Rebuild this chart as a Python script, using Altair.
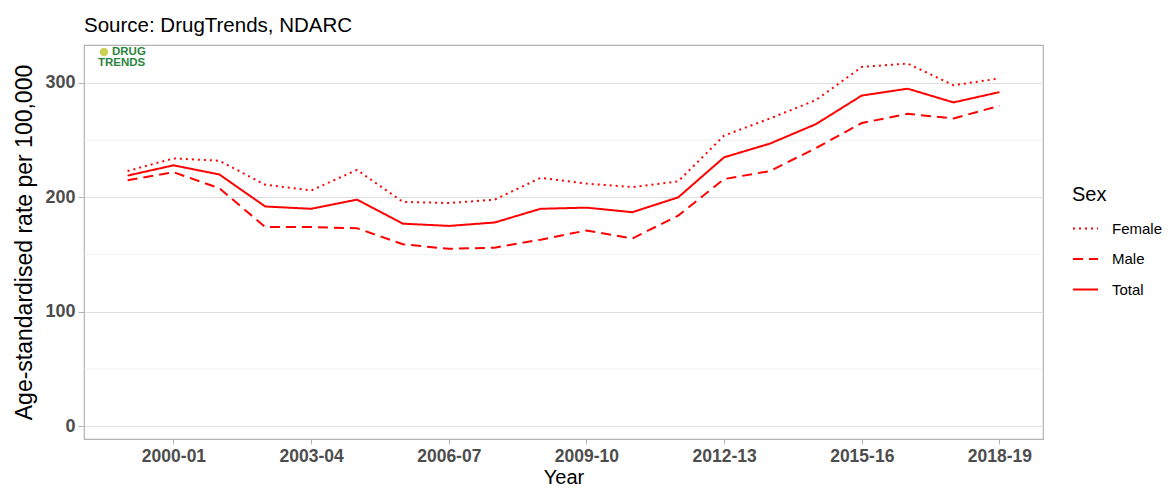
import altair as alt
import pandas as pd

years = ["1999-00", "2000-01", "2001-02", "2002-03", "2003-04", "2004-05", "2005-06",
         "2006-07", "2007-08", "2008-09", "2009-10", "2010-11", "2011-12", "2012-13",
         "2013-14", "2014-15", "2015-16", "2016-17", "2017-18", "2018-19"]
female = [223, 234, 232, 211, 206, 224, 196, 195, 198, 217, 212, 209, 214, 254, 269, 285, 314, 317, 298, 304]
male = [215, 222, 208, 174, 174, 173, 159, 155, 156, 163, 171, 164, 184, 216, 223, 243, 265, 273, 269, 280]
total = [219, 228, 220, 192, 190, 198, 177, 175, 178, 190, 191, 187, 200, 235, 247, 264, 289, 295, 283, 292]
sexes = ["Female", "Male", "Total"]
x_ticks = ["2000-01", "2003-04", "2006-07", "2009-10", "2012-13", "2015-16", "2018-19"]
y_ticks = [0, 100, 200, 300]
y_minor = [50, 150, 250]

rows = []
for s, vals in zip(sexes, [female, male, total]):
    for yr, v in zip(years, vals):
        rows.append({"Year": yr, "Sex": s, "Rate": v})
df = pd.DataFrame(rows)

FONT = "Liberation Sans"
W, H = 959, 394

xscale = alt.Scale(domain=years, type="point", padding=0.95)
yscale = alt.Scale(domain=[-11.3, 333.2], nice=False, zero=False)

minor = alt.Chart(pd.DataFrame({"v": y_minor})).mark_rule(
    color="#EDEDED", strokeWidth=0.8
).encode(y=alt.Y("v:Q", scale=yscale))

lines = alt.Chart(df).mark_line(color="#FF0000", strokeWidth=2).encode(
    x=alt.X("Year:O", scale=xscale, sort=years,
            axis=alt.Axis(values=x_ticks, title="Year", labelAngle=0,
                          labelFont=FONT, labelFontSize=17.5, labelFontWeight="bold",
                          labelColor="#4D4D4D", labelPadding=3,
                          titleFont=FONT, titleFontSize=20, titleFontWeight="normal",
                          titleColor="#000000", titleBaseline="alphabetic", titleY=44,
                          tickColor="#B3B3B3", tickSize=5, domain=False, grid=False)),
    y=alt.Y("Rate:Q", scale=yscale,
            axis=alt.Axis(values=y_ticks, title="Age-standardised rate per 100,000",
                          labelFont=FONT, labelFontSize=18, labelFontWeight="bold",
                          labelColor="#4D4D4D", labelPadding=3,
                          titleFont=FONT, titleFontSize=23, titleFontWeight="normal",
                          titleColor="#000000", titlePadding=8,
                          tickColor="#B3B3B3", tickSize=6, domain=False,
                          grid=True, gridColor="#DEDEDE", gridWidth=1.2)),
    strokeDash=alt.StrokeDash("Sex:N",
        scale=alt.Scale(domain=sexes, range=[[2, 4], [10, 6], [1, 0]]),
        legend=alt.Legend(title="Sex", orient="none", legendX=988, legendY=140,
                          titleFont=FONT, titleFontSize=20, titleFontWeight="normal",
                          titleColor="#000000", titlePadding=10,
                          labelFont=FONT, labelFontSize=15, labelColor="#000000",
                          labelOffset=13,
                          symbolType="stroke", symbolSize=625, symbolStrokeWidth=2,
                          symbolStrokeColor="#FF0000", rowPadding=8.5)),
)

logo_icon = alt.Chart(pd.DataFrame({"a": [1]})).mark_point(
    filled=True, color="#C8CF4A", size=70, opacity=0.95
).encode(x=alt.value(20), y=alt.value(7))
logo1 = alt.Chart(pd.DataFrame({"t": ["DRUG"]})).mark_text(
    font=FONT, fontSize=11.5, fontWeight="bold", color="#2A8540", align="left", baseline="middle"
).encode(x=alt.value(28), y=alt.value(6.5), text="t:N")
logo2 = alt.Chart(pd.DataFrame({"t": ["TRENDS"]})).mark_text(
    font=FONT, fontSize=11.5, fontWeight="bold", color="#2A8540", align="left", baseline="middle"
).encode(x=alt.value(14), y=alt.value(17.5), text="t:N")

chart = alt.layer(minor, lines, logo_icon, logo1, logo2).properties(
    width=W, height=H,
    title=alt.TitleParams("Source: DrugTrends, NDARC", anchor="start", frame="group",
                          font=FONT, fontSize=20.5, fontWeight="normal",
                          color="#000000", offset=9),
    autosize=alt.AutoSizeParams(type="none"),
    padding={"left": 76, "top": 37, "right": 121, "bottom": 47},
).configure_view(stroke="#B3B3B3", strokeWidth=1.2)

chart.save("out.html", embed_options={"renderer": "svg", "actions": False})
